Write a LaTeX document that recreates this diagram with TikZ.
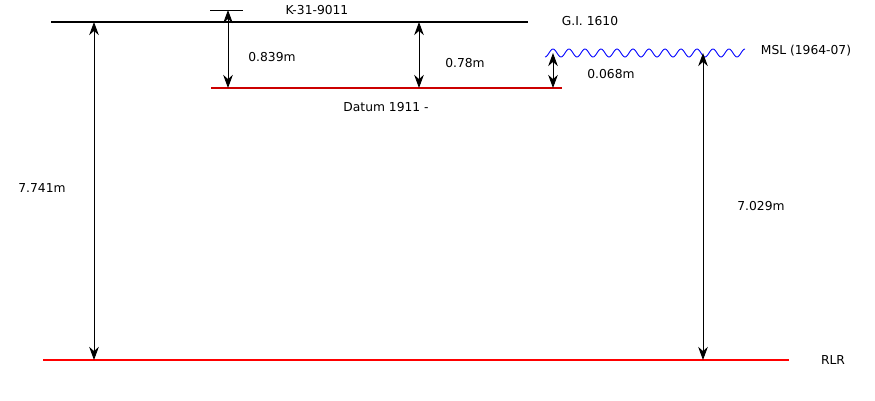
\documentclass[tikz,border=0pt]{standalone}
\usepackage{fontspec}
\setmainfont{DejaVu Sans}
\usepackage{tikz}
\usetikzlibrary{arrows.meta}
\definecolor{rlrrojo}{HTML}{FF0000}
\definecolor{datumrojo}{HTML}{CC0000}
\definecolor{mslazul}{HTML}{0000FF}
\tikzset{
  nivel/.style={line width=1.1pt, black},
  datum/.style={line width=0.6pt, datumrojo},
  rlr/.style={line width=1.1pt, rlrrojo},
  msl/.style={mslazul, line width=0.5pt},
  cota/.style={{Stealth[length=7.5pt, width=5.5pt]}-{Stealth[length=7.5pt, width=5.5pt]}, line width=0.5pt},
  etiqueta/.style={font=\fontsize{7}{8.5}\selectfont, inner sep=0pt}
}

\begin{document}
\begin{tikzpicture}[x=0.02cm, y=-0.02cm]
  \useasboundingbox (0,0) rectangle (875,400);

  % --- Niveles de referencia ---
  \coordinate (giA) at (51,22);   \coordinate (giB) at (528,22);
  \coordinate (kA) at (210,10);   \coordinate (kB) at (243,10);
  \coordinate (dtA) at (211,88);  \coordinate (dtB) at (562,88);
  \coordinate (rlrA) at (43,360); \coordinate (rlrB) at (789,360);

  \draw[nivel] (giA) -- (giB);
  \draw[line width=0.5pt] (kA) -- (kB);
  \draw[datum] (dtA) -- (dtB);
  % MSL ondulado
  \draw[msl] plot[domain=545:745, samples=200, smooth]
    (\x, {53 - 4*sin(22.5*(\x-549))});
  \draw[rlr] (rlrA) -- (rlrB);

  % --- Puntos de las cotas ---
  \coordinate (c1a) at (228,10);  \coordinate (c1b) at (228,88);
  \coordinate (c2a) at (419,22);  \coordinate (c2b) at (419,88);
  \coordinate (c3a) at (553,53);  \coordinate (c3b) at (553,88);
  \coordinate (c4a) at (94,22);   \coordinate (c4b) at (94,360);
  \coordinate (c5a) at (703,53);  \coordinate (c5b) at (703,360);

  % --- Cotas ---
  \draw[cota] (c1a) -- (c1b);
  \draw[cota] (c2a) -- (c2b);
  \draw[cota] (c3a) -- (c3b);
  \draw[cota] (c4a) -- (c4b);
  \draw[cota] (c5a) -- (c5b);

  % --- Etiquetas ---
  \node[etiqueta] (kLbl) at (317,10) {K-31-9011};
  \node[etiqueta] (giLbl) at (590,21) {G.I. 1610};
  \node[etiqueta] (mslLbl) at (806,51) {MSL (1964-07)};
  \node[etiqueta] (dtLbl) at (386,107) {Datum 1911 -};
  \node[etiqueta] (rlrLbl) at (833,360) {RLR};
  \node[etiqueta] (v1) at (272,57) {0.839m};
  \node[etiqueta] (v2) at (465,63) {0.78m};
  \node[etiqueta] (v3) at (611,74) {0.068m};
  \node[etiqueta] (v4) at (42,188) {7.741m};
  \node[etiqueta] (v5) at (761,206) {7.029m};

\end{tikzpicture}
\end{document}
